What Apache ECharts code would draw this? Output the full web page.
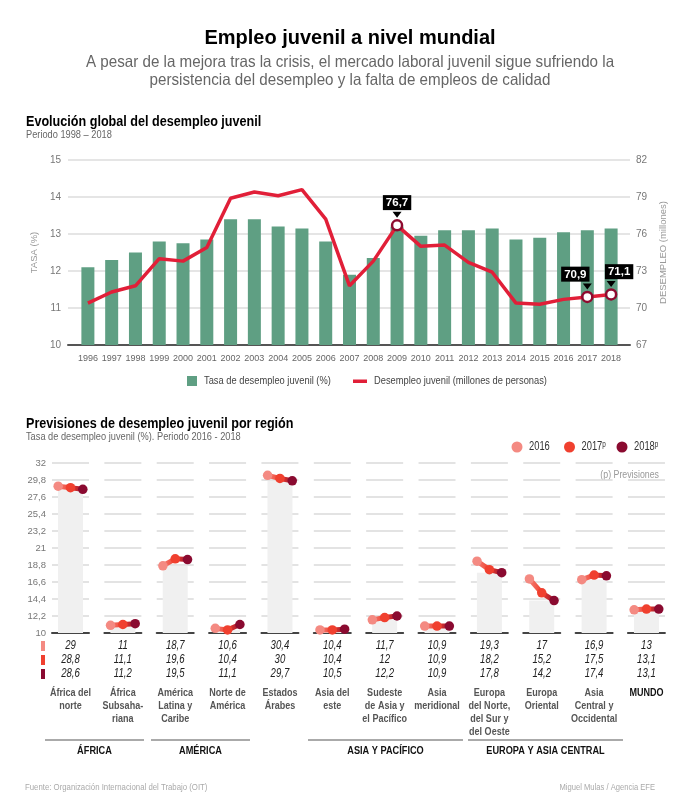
<!DOCTYPE html>
<html><head><meta charset="utf-8">
<script src="https://cdn.jsdelivr.net/npm/echarts@6/dist/echarts.min.js"></script>
<style>html,body{margin:0;padding:0;background:#fff}#c{width:700px;height:811px}</style>
</head><body><div id="c"></div>
<script>
// ---------------- DATA ----------------
const years = ['1996','1997','1998','1999','2000','2001','2002','2003','2004','2005','2006','2007','2008','2009','2010','2011','2012','2013','2014','2015','2016','2017','2018'];
const tasaDesempleo = [12.1,12.3,12.5,12.8,12.75,12.85,13.4,13.4,13.2,13.15,12.8,11.9,12.35,13.2,12.95,13.1,13.1,13.15,12.85,12.9,13.05,13.1,13.15];
const desempleoMillones = [70.4,71.3,71.8,74.0,73.8,74.9,78.9,79.4,79.1,79.6,77.2,71.8,73.8,76.7,75.0,75.1,73.7,72.9,70.4,70.3,70.7,70.9,71.1];
const highlightYears = ['2009','2017','2018'];

const regionNames = ['África del\nnorte','África\nSubsaha-\nriana','América\nLatina y\nCaribe','Norte de\nAmérica','Estados\nÁrabes','Asia del\neste','Sudeste\nde Asia y\nel Pacífico','Asia\nmeridional','Europa\ndel Norte,\ndel Sur y\ndel Oeste','Europa\nOriental','Asia\nCentral y\nOccidental','MUNDO'];
const periodYears = ['2016','2017','2018'];
const periodLabels = ['2016','2017ᵖ','2018ᵖ'];
const tasa2016 = [29,11,18.7,10.6,30.4,10.4,11.7,10.9,19.3,17,16.9,13];
const tasa2017 = [28.8,11.1,19.6,10.4,30,10.4,12,10.9,18.2,15.2,17.5,13.1];
const tasa2018 = [28.6,11.2,19.5,11.1,29.7,10.5,12.2,10.9,17.8,14.2,17.4,13.1];
const groupNames = ['ÁFRICA','AMÉRICA','ASIA Y PACÍFICO','EUROPA Y ASIA CENTRAL'];

// ---------------- STYLE / LAYOUT ----------------
const FA = "'Liberation Sans',Arial,sans-serif";
const GREEN = '#5f9f83', RED = '#e11f38', MAROON = '#8e0b2f';
const YEAR_COLORS = ['#f48a82','#f0402f','#8a0a30'];
const labelOffsets = [[0,0],[-12,0],[8,0]];
const groupSpans = [[45,144],[151,250],[308,463],[468,623]];
const P_LEFT = 52, P_STEP = 52.36, P_W = 37, P_TOP = 463, P_H = 170;

const fmt = v => String(Math.round(v*10)/10).replace('.', ',');

const chart = echarts.init(document.getElementById('c'));
const grids = [], xAxes = [], yAxes = [], series = [], graphics = [];

function T(x, y, text, font, fill, align, sx, extra) {
  graphics.push(Object.assign({type:'text', x:x, y:y, scaleX:sx || 1,
    style:Object.assign({text:text, font:font + ' ' + FA, fill:fill, textAlign:align || 'left', textVerticalAlign:'middle'}, extra || {})}));
}

// ---- top chart: background grid (gridlines + axes) ----
grids.push({left:68, right:70, top:160, height:185});
grids.push({left:76, right:77, top:160, height:185});
xAxes.push({type:'value', gridIndex:0, min:0, max:1, axisLine:{show:true, onZero:false, lineStyle:{color:'#555', width:2}}, axisTick:{show:false}, axisLabel:{show:false}, splitLine:{show:false}});
yAxes.push({type:'value', gridIndex:0, min:10, max:15, interval:1, position:'left',
  name:'TASA (%)', nameLocation:'middle', nameGap:20, nameRotate:90, nameTextStyle:{color:'#999', fontSize:9.5, fontFamily:FA},
  axisLine:{show:false}, axisTick:{show:false}, axisLabel:{color:'#777', fontSize:10, fontFamily:FA, margin:7},
  splitLine:{lineStyle:{color:'#dcdcdc', width:1.5}}});
yAxes.push({type:'value', gridIndex:0, min:67, max:82, interval:3, position:'right',
  name:'DESEMPLEO (millones)', nameLocation:'middle', nameGap:23, nameRotate:90, nameTextStyle:{color:'#999', fontSize:9.5, fontFamily:FA},
  axisLine:{show:false}, axisTick:{show:false}, axisLabel:{color:'#777', fontSize:10, fontFamily:FA, margin:6},
  splitLine:{show:false}});
xAxes.push({type:'category', gridIndex:1, data:years, axisLine:{show:false}, axisTick:{show:false},
  axisLabel:{color:'#666', fontSize:9, fontFamily:FA, margin:9, interval:0}});
yAxes.push({type:'value', gridIndex:1, min:10, max:15, show:false, splitLine:{show:false}});
yAxes.push({type:'value', gridIndex:1, min:67, max:82, show:false, splitLine:{show:false}});

series.push({name:'Tasa de desempleo juvenil (%)', type:'bar', xAxisIndex:1, yAxisIndex:2, data:tasaDesempleo,
  barWidth:13, itemStyle:{color:GREEN}, silent:true});
series.push({name:'Desempleo juvenil (millones de personas)', type:'line', xAxisIndex:1, yAxisIndex:3, color:RED,
  symbol:'none', showSymbol:true, showAllSymbol:true, lineStyle:{color:RED, width:3.5}, silent:true, z:5,
  data: desempleoMillones.map((v,i) => {
    const h = highlightYears.indexOf(years[i]);
    if (h < 0) return {value:v, symbol:'none'};
    return {value:v, symbol:'circle', symbolSize:10,
      itemStyle:{color:'#fff', borderColor:MAROON, borderWidth:2.5},
      label:{show:true, position:'top', distance:9, offset:labelOffsets[h], formatter:fmt(v),
        backgroundColor:'#000', color:'#fff', fontWeight:'bold', fontSize:11.5, fontFamily:FA, padding:[2,3,1,3]}};
  }),
  markPoint:{silent:true, symbol:'triangle', symbolRotate:180, symbolSize:[9,6], symbolOffset:[0,-10.5],
    itemStyle:{color:'#000'}, label:{show:false},
    data: highlightYears.map(y => ({coord:[y, desempleoMillones[years.indexOf(y)]]}))}
});

// ---- bottom: small multiples ----
regionNames.forEach((r, i) => {
  const g = grids.length;
  const left = P_LEFT + i*P_STEP;
  grids.push({left:left, top:P_TOP, width:P_W, height:P_H});
  const xi = xAxes.length, yi = yAxes.length;
  xAxes.push({type:'category', gridIndex:g, data:periodYears, axisLine:{lineStyle:{color:'#444', width:2}}, axisTick:{show:false}, axisLabel:{show:false}});
  yAxes.push({type:'value', gridIndex:g, min:10, max:32, interval:2.2,
    axisLine:{show:false}, axisTick:{show:false},
    axisLabel:{show:i===0, color:'#777', fontSize:9.5, fontFamily:FA, margin:6, formatter:fmt},
    splitLine:{lineStyle:{color:'#dadada', width:1.5}}});
  const vals = [tasa2016[i], tasa2017[i], tasa2018[i]];
  series.push({type:'bar', xAxisIndex:xi, yAxisIndex:yi, silent:true, barWidth:25, z:1,
    itemStyle:{color:'#f0f0f0'}, data:[null, Math.min(...vals), null]});
  series.push({type:'line', xAxisIndex:xi, yAxisIndex:yi, silent:true, z:5, symbol:'circle', symbolSize:9.5,
    showSymbol:true, showAllSymbol:true,
    lineStyle:{width:5, color:new echarts.graphic.LinearGradient(0,0,1,0,[
      {offset:0,color:YEAR_COLORS[0]},{offset:0.5,color:YEAR_COLORS[1]},{offset:1,color:YEAR_COLORS[2]}])},
    data: vals.map((v,k) => ({value:v, itemStyle:{color:YEAR_COLORS[k]}}))});
  const cx = left + P_W/2;
  [tasa2016, tasa2017, tasa2018].forEach((arr, k) => {
    T(cx, 646 + k*14, fmt(arr[i]), 'italic 12px', '#222', 'center', 0.8);
  });
  const isWorld = i === regionNames.length-1;
  graphics.push({type:'text', x:cx, y:686, scaleX:0.82, style:{text:r, fill:isWorld?'#111':'#555', font:'bold 11px '+FA, textAlign:'center', textVerticalAlign:'top', lineHeight:13}});
});

// table legend marks
YEAR_COLORS.forEach((c,k) => graphics.push({type:'rect', shape:{x:41, y:641 + k*14, width:4, height:10}, style:{fill:c}}));

// group lines and labels
groupNames.forEach((n, k) => {
  const [a,b] = groupSpans[k];
  graphics.push({type:'line', shape:{x1:a, y1:740, x2:b, y2:740}, style:{stroke:'#aaa', lineWidth:2}});
  T((a+b)/2, 751, n, 'bold 11.5px', '#111', 'center', 0.8);
});

// bottom legend
periodLabels.forEach((t,k) => {
  const x = 517 + k*52.5;
  graphics.push({type:'circle', shape:{cx:x, cy:447, r:5.5}, style:{fill:YEAR_COLORS[k]}});
  T(x + 12, 447, t, '12px', '#333', 'left', 0.78);
});
T(659, 475, '(p) Previsiones', '11px', '#999', 'right', 0.8);

// top legend
graphics.push({type:'rect', shape:{x:187, y:376, width:10, height:10}, style:{fill:GREEN}});
T(204, 381, 'Tasa de desempleo juvenil (%)', '11.5px', '#444', 'left', 0.81);
graphics.push({type:'rect', shape:{x:353, y:379.5, width:14, height:3.5}, style:{fill:RED}});
T(374, 381, 'Desempleo juvenil (millones de personas)', '11.5px', '#444', 'left', 0.81);

// titles and notes
T(350, 38, 'Empleo juvenil a nivel mundial', 'bold 20px', '#000', 'center', 1);
graphics.push({type:'text', x:350, y:71, scaleX:0.92, style:{text:'A pesar de la mejora tras la crisis, el mercado laboral juvenil sigue sufriendo la\npersistencia del desempleo y la falta de empleos de calidad', fill:'#666', font:'16.5px '+FA, textAlign:'center', textVerticalAlign:'middle', lineHeight:18}});
T(26, 122, 'Evolución global del desempleo juvenil', 'bold 14px', '#000', 'left', 0.9);
T(26, 135, 'Periodo 1998 – 2018', '10.5px', '#666', 'left', 0.88);
T(26, 424, 'Previsiones de desempleo juvenil por región', 'bold 14px', '#000', 'left', 0.9);
T(26, 437, 'Tasa de desempleo juvenil (%). Periodo 2016 - 2018', '10.5px', '#666', 'left', 0.88);
T(25, 787, 'Fuente: Organización Internacional del Trabajo (OIT)', '9.5px', '#aaa', 'left', 0.82);
T(655, 787, 'Miguel Mulas / Agencia EFE', '9.5px', '#aaa', 'right', 0.8);

chart.setOption({
  animation:false,
  backgroundColor:'#fff',
  grid:grids, xAxis:xAxes, yAxis:yAxes, series:series,
  graphic:{elements:graphics}
});
</script></body></html>
